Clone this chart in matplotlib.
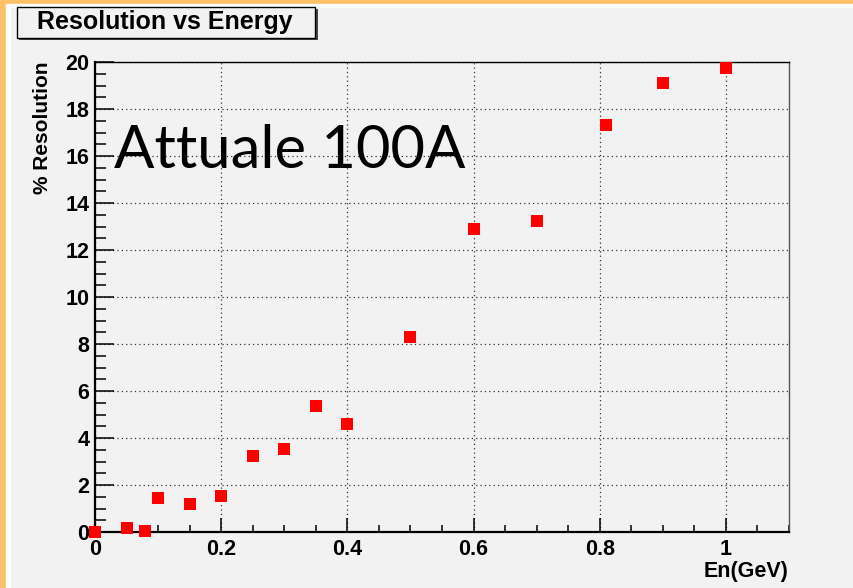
import matplotlib.pyplot as plt
from matplotlib.patches import Rectangle
from matplotlib.ticker import MultipleLocator, FixedLocator

# Resolution measurements
energy = [0.0, 0.05, 0.08, 0.10, 0.15, 0.20, 0.25, 0.30, 0.35, 0.40,
          0.50, 0.60, 0.70, 0.81, 0.90, 1.00]
resolution = [0.0, 0.17, 0.05, 1.45, 1.2, 1.55, 3.25, 3.55, 5.35, 4.6,
              8.3, 12.9, 13.25, 17.3, 19.1, 19.75]

x_ticks = [0, 0.2, 0.4, 0.6, 0.8, 1.0]
x_labels = ["0", "0.2", "0.4", "0.6", "0.8", "1"]
y_ticks = list(range(0, 21, 2))

plt.rcParams['font.family'] = ['Liberation Sans', 'DejaVu Sans']
bg = '#f2f2f2'

fig = plt.figure(figsize=(8.54, 5.88), dpi=100, facecolor=bg)

# frame strips along the top and left edges
fig.patches.append(Rectangle((0, 0), 0.007, 1, transform=fig.transFigure,
                             color='#ffc06a', zorder=0))
fig.patches.append(Rectangle((0.007, 0), 0.005, 0.994, transform=fig.transFigure,
                             color='white', zorder=0))
fig.patches.append(Rectangle((0, 0.994), 1, 0.006, transform=fig.transFigure,
                             color='#ffc06a', zorder=0))
fig.patches.append(Rectangle((0.007, 0.988), 0.993, 0.006, transform=fig.transFigure,
                             color='white', zorder=0))

ax = fig.add_axes([95 / 854, 1 - 532 / 588, (789 - 95) / 854, (532 - 62) / 588])
ax.set_facecolor(bg)

ax.plot(energy, resolution, 's', color='red', markersize=8,
        markeredgewidth=0, clip_on=False, zorder=3)

ax.set_xlim(0, 1.1)
ax.set_ylim(0, 20)
ax.xaxis.set_major_locator(FixedLocator(x_ticks))
ax.set_xticklabels(x_labels)
ax.xaxis.set_minor_locator(MultipleLocator(0.05))
ax.set_yticks(y_ticks)
ax.yaxis.set_minor_locator(MultipleLocator(0.5))

ax.tick_params(axis='both', which='both', direction='in', color='black',
               labelsize=15.5, width=1.1)
ax.tick_params(axis='x', which='major', length=10, pad=5)
ax.tick_params(axis='x', which='minor', length=5)
ax.tick_params(axis='y', which='major', length=14, pad=4)
ax.tick_params(axis='y', which='minor', length=8)
ax.tick_params(top=False, right=False, which='both')
for lbl in ax.get_xticklabels() + ax.get_yticklabels():
    lbl.set_fontweight('bold')

ax.grid(True, which='major', linestyle=(0, (1, 2.5)), color='#333333',
        linewidth=0.9)
ax.set_axisbelow(True)

for side in ['left', 'bottom']:
    ax.spines[side].set_linewidth(1.6)
for side in ['top', 'right']:
    ax.spines[side].set_linewidth(1.0)
ax.spines['right'].set_color('#555555')

# axis titles pinned to the top and right ends of the axes
ax.text(-0.076, 1.0, "% Resolution", transform=ax.transAxes, rotation=90,
        ha='center', va='top', fontsize=15, fontweight='bold')
ax.text(1.0, -0.085, "En(GeV)", transform=ax.transAxes, ha='right',
        va='center', fontsize=15.5, fontweight='bold')

ax.text(0.028, 0.81, "Attuale 100A", transform=ax.transAxes, fontsize=43,
        family=['Lato', 'DejaVu Sans'], va='center', ha='left')

# title box with drop shadow
fig.patches.append(Rectangle((19 / 854, 1 - 40 / 588), 299 / 854, 31 / 588,
                             transform=fig.transFigure, facecolor='#444444',
                             edgecolor='none', zorder=1))
fig.patches.append(Rectangle((17 / 854, 1 - 38 / 588), 298 / 854, 31 / 588,
                             transform=fig.transFigure, facecolor=bg,
                             edgecolor='black', linewidth=1.0, zorder=2))
fig.text(165 / 854, 1 - 22 / 588, "Resolution vs Energy", ha='center',
         va='center', fontsize=18, fontweight='bold', zorder=3)

fig.savefig("out.png", dpi=100, facecolor=bg)
